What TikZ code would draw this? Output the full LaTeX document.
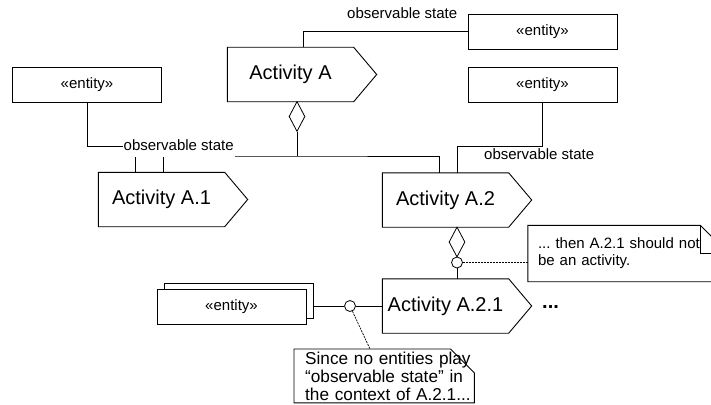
\documentclass[tikz,border=0pt]{standalone}
\usepackage{fontspec}
\setmainfont{Liberation Sans}
\usetikzlibrary{shapes.geometric}

% outline of an activity: body rectangle plus a pointer on the right
\newcommand\actoutline[1]{%
  \draw[actline] (#1.north west) -- (#1.north east) -- ([xshift=23pt]#1.east)
    -- (#1.south east) -- (#1.south west) -- cycle;}

\begin{document}
\frenchspacing
\begin{tikzpicture}[x=1pt,y=-1pt,
  line/.style={line width=0.8pt},
  entity/.style={draw, line width=0.9pt, fill=white, minimum width=149pt,
    minimum height=35pt, inner sep=0pt, font=\fontsize{15}{18}\selectfont},
  actbody/.style={minimum width=126pt, minimum height=54pt, inner sep=0pt,
    font=\fontsize{20}{24}\selectfont},
  actline/.style={draw, line width=0.9pt},
  lbl/.style={font=\fontsize{15}{18}\selectfont, inner sep=1pt},
  agg/.style={draw, shape=diamond, fill=white, line width=0.8pt,
    minimum width=16pt, minimum height=30pt, inner sep=0pt},
  port/.style={draw, circle, fill=white, line width=0.8pt,
    minimum size=11pt, inner sep=0pt},
  anchorline/.style={line width=0.7pt, dash pattern=on 2pt off 1pt},
  notebox/.style={line width=0.9pt},
]
\useasboundingbox[fill=white] (0,0) rectangle (711,404);

% activities
\node[actbody] (A)   at (290.5,74.5) {Activity A};
\node[actbody] (A1)  at (161.5,199.5) {Activity A.1};
\node[actbody] (A2)  at (445.5,200) {Activity A.2};
\node[actbody] (A21) at (445.5,306) {Activity A.2.1};
\actoutline{A}
\actoutline{A1}
\actoutline{A2}
\actoutline{A21}
\node[font=\bfseries\fontsize{20}{24}\selectfont, anchor=base west, inner sep=0pt]
  (more) at (542,308) {...};

% entities
\node[entity] (e1) at (542.5,31.5) {«entity»};
\node[entity] (e2) at (542.5,84.5) {«entity»};
\node[entity] (e3) at (87,84.5) {«entity»};
\node[entity] (e4b) at (238.5,300.5) {};
\node[entity] (e4) at (231.5,306.5) {«entity»};

% observable state links
\draw[line] ([xshift=12.5pt]A.north) |- (e1.west);
\node[lbl, anchor=base west] (l1) at (346,19) {observable state};

\coordinate (k2) at (457,146);
\draw[line] (e2.south) |- (k2) -- ([xshift=11.5pt]A2.north);
\node[lbl, anchor=base west] (l2) at (483,159) {observable state};

\coordinate (k3) at (135,146);
\draw[line] (e3.south) |- (k3) -- ([xshift=-26.5pt]A1.north);

% composition of Activity A
\node[agg] (dA) at (297,116.5) {};
\coordinate (j) at (297,156);
\draw[line] (dA.south) -- (j);
\draw[line] ([xshift=1.5pt]A1.north) |- (j) -| ([xshift=-6.5pt]A2.north);

\node[lbl, anchor=base west, fill=white, text depth=6pt] (l3) at (122.5,150) {observable state};

% composition of Activity A.2
\node[agg] (dA2) at (457,242) {};
\node[port] (c1) at (457,262.5) {};
\draw[line] (c1.south) -- ([xshift=11.5pt]A21.north);

% entity port of Activity A.2.1
\node[port] (c2) at (350,306) {};
\draw[line] (e4b.east |- c2) -- (c2.west);
\draw[line] (c2.east) -- (A21.west);

% notes
\node[align=left, text width=180pt, inner xsep=10pt, minimum width=200pt,
  minimum height=56pt, font=\fontsize{15}{17}\selectfont, yshift=-1.5pt] (n1) at (628,252)
  {... then A.2.1 should not\\be an activity.};
\draw[notebox] (n1.north west) -- ([xshift=-28pt]n1.north east)
  -- ([yshift=-28pt]n1.north east) -- (n1.south east) -- (n1.south west) -- cycle;
\draw[notebox] ([xshift=-28pt]n1.north east) |- ([yshift=-28pt]n1.north east);
\draw[anchorline] (c1.east) -- (n1.west |- c1.east);

\node[align=left, text width=180pt, inner xsep=0pt, inner ysep=2.4pt,
  anchor=north west, font=\fontsize{17.2}{18}\selectfont] (n2) at (294,349)
  {\hspace*{11pt}Since no entities play\\\hspace*{11pt}“observable state” in\\\hspace*{11pt}the context of A.2.1...};
\draw[notebox] (n2.north west) -- ([xshift=-24pt]n2.north east)
  -- ([yshift=-24pt]n2.north east) -- (n2.south east) -- (n2.south west) -- cycle;
\draw[anchorline] (c2.-65) -- ([xshift=76pt]n2.north west);
\end{tikzpicture}
\end{document}
